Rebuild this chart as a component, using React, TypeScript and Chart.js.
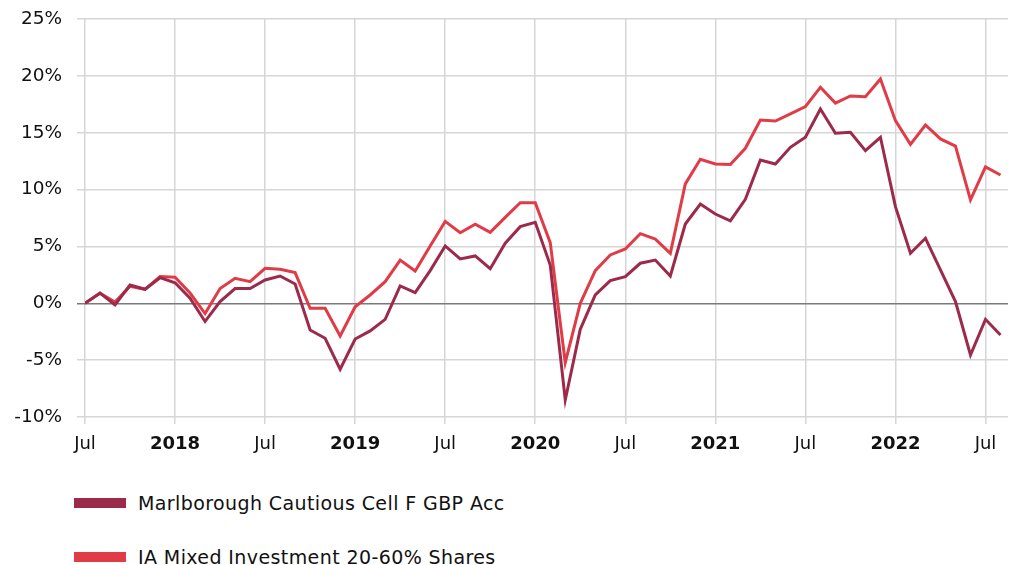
import React, { useEffect, useRef } from "react";
import { Chart, registerables } from "chart.js";

Chart.register(...registerables);

// Monthly points, Jul 2017 .. Aug 2022 (index 0 = Jul 2017)
const fundName = "Marlborough Cautious Cell F GBP Acc";
const sectorName = "IA Mixed Investment 20-60% Shares";

const fundValues: number[] = [
  0, 0.9, -0.15, 1.6, 1.23, 2.25, 1.8, 0.45, -1.6, 0.15, 1.3, 1.3,
  2.05, 2.4, 1.7, -2.35, -3.08, -5.8, -3.14, -2.43, -1.41, 1.52, 0.93, 2.87,
  5.04, 3.9, 4.16, 3.04, 5.28, 6.74, 7.12, 3.37, -8.5, -2.29, 0.73, 1.99,
  2.34, 3.52, 3.8, 2.4, 6.97, 8.73, 7.85, 7.24, 9.15, 12.6, 12.25, 13.72,
  14.6, 17.09, 14.95, 15.04, 13.42, 14.6, 8.5, 4.4, 5.72, 2.93, 0.15, -4.55,
  -1.41, -2.79,
];

const sectorValues: number[] = [
  0, 0.88, 0.1, 1.5, 1.23, 2.35, 2.3, 0.9, -0.9, 1.3, 2.2, 1.9,
  3.08, 3.0, 2.7, -0.44, -0.44, -2.88, -0.3, 0.73, 1.9, 3.8, 2.84, 5.04,
  7.2, 6.2, 6.95, 6.24, 7.56, 8.85, 8.85, 5.33, -5.22, 0, 2.87, 4.25,
  4.78, 6.12, 5.65, 4.4, 10.5, 12.66, 12.25, 12.2, 13.63, 16.12, 16.03, 16.65,
  17.3, 19.0, 17.6, 18.23, 18.17, 19.73, 16.06, 13.98, 15.68, 14.45, 13.83, 9.09,
  12.0, 11.28,
];

// x tick labels at month indices 0, 6, 12, ...
const xTickIndices: number[] = [0, 6, 12, 18, 24, 30, 36, 42, 48, 54, 60];
const xTickLabels: string[] = ["Jul", "2018", "Jul", "2019", "Jul", "2020", "Jul", "2021", "Jul", "2022", "Jul"];

const yTicks: number[] = [-10, -5, 0, 5, 10, 15, 20, 25];

const FONT = "'DejaVu Sans', Verdana, sans-serif";
const DARK = "#9c2a4b";
const RED = "#e03c48";

export default function App() {
  const canvasRef = useRef<HTMLCanvasElement | null>(null);

  useEffect(() => {
    if (!canvasRef.current) return;
    const toPoints = (vals: number[]) => vals.map((v, i) => ({ x: i, y: v }));
    const chart = new Chart(canvasRef.current, {
      type: "line",
      data: {
        datasets: [
          {
            label: fundName,
            data: toPoints(fundValues),
            borderColor: DARK,
            backgroundColor: DARK,
            borderWidth: 3,
            pointRadius: 0,
            tension: 0,
          },
          {
            label: sectorName,
            data: toPoints(sectorValues),
            borderColor: RED,
            backgroundColor: RED,
            borderWidth: 3,
            pointRadius: 0,
            tension: 0,
          },
        ],
      },
      options: {
        animation: false,
        responsive: false,
        layout: { padding: { top: 19, right: 10, left: 0, bottom: 8 } },
        plugins: {
          legend: { display: false },
          tooltip: { enabled: false },
        },
        scales: {
          x: {
            type: "linear",
            min: 0,
            max: 61.5,
            afterBuildTicks: (scale: any) => {
              scale.ticks = xTickIndices.map((v) => ({ value: v }));
            },
            afterFit: (scale: any) => {
              scale.height = 40;
              scale.paddingLeft = 0;
              scale.paddingRight = 0;
            },
            grid: {
              color: "#d6d6d6",
              lineWidth: 1.5,
              tickLength: 7,
              drawTicks: true,
            },
            border: { display: false },
            ticks: {
              autoSkip: false,
              maxRotation: 0,
              padding: 10,
              color: "#111",
              font: (ctx: any) => {
                const idx = xTickIndices.indexOf(ctx.tick ? ctx.tick.value : -1);
                const lbl = idx >= 0 ? xTickLabels[idx] : "";
                return { family: FONT, size: 18, weight: lbl === "Jul" ? "normal" : "bold" };
              },
              callback: (value: any) => {
                const idx = xTickIndices.indexOf(Number(value));
                return idx >= 0 ? xTickLabels[idx] : "";
              },
            },
          },
          y: {
            min: -10,
            max: 25,
            afterBuildTicks: (scale: any) => {
              scale.ticks = yTicks.map((v) => ({ value: v }));
            },
            afterFit: (scale: any) => {
              scale.width = 85;
              scale.paddingTop = 0;
              scale.paddingBottom = 0;
            },
            grid: {
              color: (ctx: any) => (ctx.tick && ctx.tick.value === 0 ? "#7a7a7a" : "#d6d6d6"),
              lineWidth: 1.5,
              tickLength: 8,
            },
            border: { display: false },
            ticks: {
              padding: 15,
              color: "#111",
              font: { family: FONT, size: 18.5 },
              callback: (value: any) => `${value}%`,
            },
          },
        },
      },
    });
    return () => chart.destroy();
  }, []);

  const legendItems = [
    { label: fundName, color: DARK, top: 493 },
    { label: sectorName, color: RED, top: 547 },
  ];

  return (
    <div style={{ position: "fixed", left: 0, top: 0, width: 1018, height: 565, background: "#fff", overflow: "hidden" }}>
      <canvas ref={canvasRef} width={1018} height={465} style={{ display: "block" }} />
      {legendItems.map((it) => (
        <div
          key={it.label}
          style={{
            position: "absolute",
            left: 74,
            top: it.top,
            display: "flex",
            alignItems: "center",
            fontFamily: FONT,
            fontSize: 19,
            letterSpacing: "0.4px",
            color: "#111",
            whiteSpace: "nowrap",
            lineHeight: "20px",
          }}
        >
          <span style={{ display: "inline-block", width: 52, height: 10, background: it.color, marginRight: 12 }} />
          <span>{it.label}</span>
        </div>
      ))}
    </div>
  );
}
